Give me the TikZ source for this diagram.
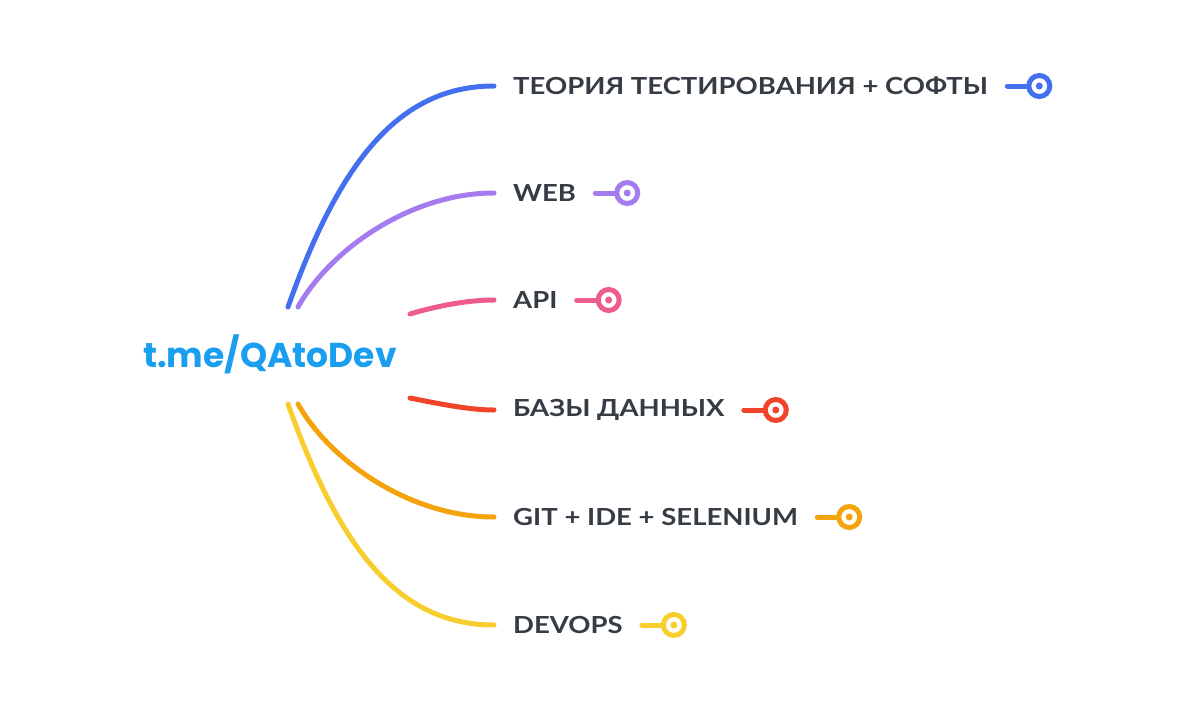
\documentclass[tikz,border=0pt]{standalone}
\usepackage{fontspec}
\setmainfont{Lato}[FakeStretch=1.17]
\newfontfamily\rootfont{Poppins}
\definecolor{cblue}{HTML}{4470EF}
\definecolor{cviolet}{HTML}{A47CEF}
\definecolor{cpink}{HTML}{EE5B8E}
\definecolor{cred}{HTML}{F0452A}
\definecolor{corange}{HTML}{F5A30C}
\definecolor{cyellow}{HTML}{F7CE2E}
\definecolor{ctext}{HTML}{363C44}
\definecolor{croot}{HTML}{1A9FF0}
\tikzset{
  lab/.style={anchor=west,inner xsep=19pt,inner ysep=0pt,text=ctext,font=\fontsize{23.5}{28}\selectfont\bfseries},
  branch/.style={line width=5pt,line cap=round},
  ring/.style={circle,draw,line width=5pt,minimum size=21pt,inner sep=0pt},
  dot/.style={circle,inner sep=0pt,minimum size=7pt},
}
\begin{document}
\begin{tikzpicture}[x=1pt,y=-1pt]
\useasboundingbox (0,0) rectangle (1200,713);
\node[text=croot,font=\rootfont\fontsize{34.5}{40}\selectfont\bfseries] (root) at (270,354) {t.me/QAtoDev};
% branch start coordinates
\coordinate (s1) at (288,307);
\coordinate (s2) at (298,307);
\coordinate (s3) at (410,314);
\coordinate (s4) at (410,398);
\coordinate (s5) at (298,404);
\coordinate (s6) at (288,404);
% labels
\node[lab] (l1) at (494,86) {ТЕОРИЯ ТЕСТИРОВАНИЯ + СОФТЫ};
\node[lab] (l2) at (494,193) {WEB};
\node[lab] (l3) at (494,300) {API};
\node[lab] (l4) at (494,410) {БАЗЫ ДАННЫХ};
\node[lab] (l5) at (494,517) {GIT + IDE + SELENIUM};
\node[lab] (l6) at (494,625) {DEVOPS};
% branches
\draw[branch,cblue] (s1) .. controls (340,160) and (400,86) .. (l1.west);
\draw[branch,cviolet] (s2) .. controls (330,250) and (410,193) .. (l2.west);
\draw[branch,cpink] (s3) .. controls (440,305) and (470,300) .. (l3.west);
\draw[branch,cred] (s4) .. controls (440,404) and (470,410) .. (l4.west);
\draw[branch,corange] (s5) .. controls (330,461) and (410,517) .. (l5.west);
\draw[branch,cyellow] (s6) .. controls (340,551) and (400,625) .. (l6.west);
% terminals
\foreach \i/\c in {1/cblue,2/cviolet,3/cpink,4/cred,5/corange,6/cyellow}{
  \node[ring,draw=\c] (r\i) at ([xshift=32pt]l\i.east) {};
  \node[dot,fill=\c] (d\i) at (r\i.center) {};
  \draw[branch,\c] (l\i.east) -- (r\i.west);
}
\end{tikzpicture}
\end{document}
